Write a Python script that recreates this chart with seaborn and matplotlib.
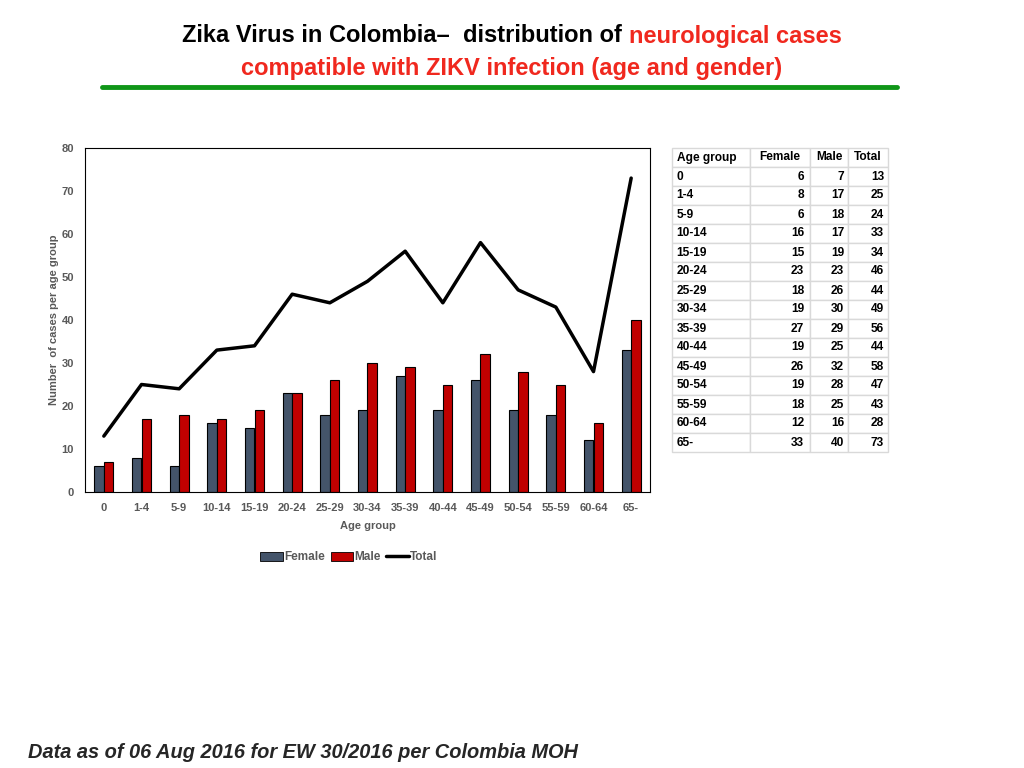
import numpy as np
import pandas as pd
import seaborn as sns
import matplotlib.pyplot as plt
from matplotlib.lines import Line2D
from matplotlib.patches import Patch

age_groups = ['0', '1-4', '5-9', '10-14', '15-19', '20-24', '25-29', '30-34',
              '35-39', '40-44', '45-49', '50-54', '55-59', '60-64', '65-']
female = [6, 8, 6, 16, 15, 23, 18, 19, 27, 19, 26, 19, 18, 12, 33]
male   = [7, 17, 18, 17, 19, 23, 26, 30, 29, 25, 32, 28, 25, 16, 40]
total  = [13, 25, 24, 33, 34, 46, 44, 49, 56, 44, 58, 47, 43, 28, 73]

FEMALE_C = '#44546A'
MALE_C   = '#C00000'
GREY     = '#595959'

sns.set_theme(style='white')
plt.rcParams['font.family'] = ['Liberation Sans', 'DejaVu Sans']

fig = plt.figure(figsize=(10.24, 7.68), dpi=100)
ax = fig.add_axes([85/1024, 1-492/768, 565/1024, 344/768])

bars = pd.DataFrame({'Age group': age_groups * 2,
                     'Sex': ['Female'] * len(age_groups) + ['Male'] * len(age_groups),
                     'Cases': female + male})
sns.barplot(data=bars, x='Age group', y='Cases', hue='Sex', order=age_groups,
            palette={'Female': FEMALE_C, 'Male': MALE_C}, width=0.5,
            edgecolor='black', linewidth=0.8, saturation=1, legend=False, ax=ax)
sns.lineplot(x=np.arange(len(age_groups)), y=total, color='black', linewidth=2.5, ax=ax)

ax.set_ylim(0, 80)
ax.set_xlim(-0.5, len(age_groups) - 0.5)
ax.set_yticks(range(0, 81, 10))
for s in ax.spines.values():
    s.set_visible(True)
    s.set_color('black')
    s.set_linewidth(0.8)
ax.tick_params(axis='both', length=0, labelsize=8, labelcolor=GREY, pad=8)
for lab in ax.get_xticklabels() + ax.get_yticklabels():
    lab.set_fontweight('bold')
ax.set_xlabel('Age group', fontsize=8, fontweight='bold', color=GREY, labelpad=6)
ax.set_ylabel('Number  of cases per age group', fontsize=8, fontweight='bold', color=GREY, labelpad=2)

handles = [Patch(facecolor=FEMALE_C, edgecolor='black', linewidth=0.6, label='Female'),
           Patch(facecolor=MALE_C, edgecolor='black', linewidth=0.6, label='Male'),
           Line2D([], [], color='black', linewidth=2.5, label='Total')]
leg = ax.legend(handles=handles, loc='center', bbox_to_anchor=(0.467, -0.19), ncol=3,
                frameon=False, handlelength=1.9, handleheight=0.8, handletextpad=0.1,
                columnspacing=0.5, prop={'size': 8.5, 'weight': 'bold'})
for t in leg.get_texts():
    t.set_color(GREY)

# data table on the right
tax = fig.add_axes([672/1024, 1-452/768, 216/1024, 304/768])
tax.axis('off')
cells = [[a, str(f), str(m), str(t)] for a, f, m, t in zip(age_groups, female, male, total)]
tbl = tax.table(cellText=cells, colLabels=['Age group', 'Female', 'Male', 'Total'],
                colWidths=[78, 60, 38, 40], bbox=[0, 0, 1, 1], cellLoc='right')
tbl.auto_set_font_size(False)
for (r, c), cell in tbl.get_celld().items():
    cell.set_edgecolor('#d9d9d9')
    cell.set_linewidth(1.0)
    cell.set_text_props(fontsize=8.6, fontweight='bold', color='black')
    if c == 0:
        cell.set_text_props(ha='left')
        cell.PAD = 0.06
    elif r == 0:
        cell.set_text_props(ha='center')
    else:
        cell.PAD = 0.1

# title with mixed colours
fig.canvas.draw()
renderer = fig.canvas.get_renderer()
tfont = dict(fontsize=17, fontweight='bold', family=['Liberation Sans', 'DejaVu Sans'])
RED = '#F0281E'
parts = [('Zika Virus in Colombia\u2013  distribution of ', 'black'), ('neurological cases', RED)]
widths = []
for txt, col in parts:
    t = fig.text(0, 0, txt, **tfont)
    widths.append(t.get_window_extent(renderer).width)
    t.remove()
x0 = (1024 - sum(widths)) / 2
for (txt, col), w in zip(parts, widths):
    fig.text(x0 / 1024, 1 - 36/768, txt, color=col, va='center', ha='left', **tfont)
    x0 += w
fig.text(0.5, 1 - 68/768, 'compatible with ZIKV infection (age and gender)', color=RED,
         va='center', ha='center', **tfont)
fig.add_artist(Line2D([102/1024, 897/1024], [1 - 87/768, 1 - 87/768], color='#109618', linewidth=3.5))

fig.text(28/1024, 1 - 752/768, 'Data as of 06 Aug 2016 for EW 30/2016 per Colombia MOH',
         fontsize=14.4, fontweight='bold', fontstyle='italic', va='center', ha='left')

fig.savefig('out.png', dpi=100)
